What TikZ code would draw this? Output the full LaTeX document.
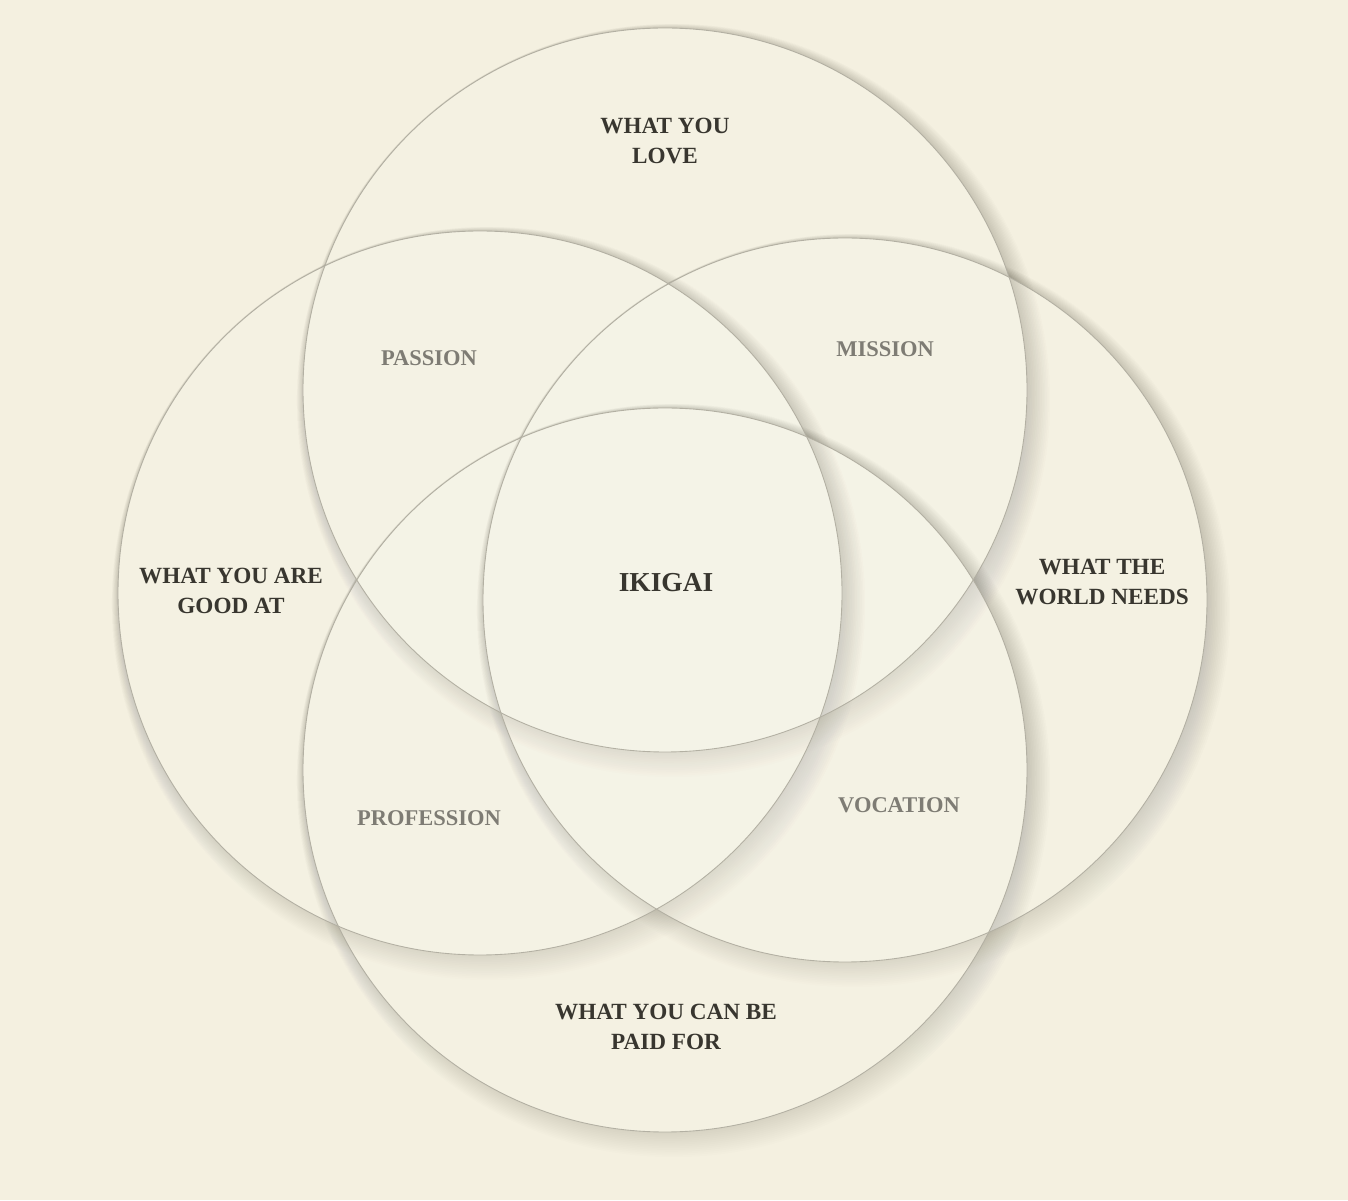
\documentclass[tikz,border=0pt]{standalone}
\usepackage{fontspec}
\setmainfont{Liberation Serif}
\usepackage{tikz}
\definecolor{paper}{HTML}{F4F0E0}
\definecolor{ink}{HTML}{38362F}
\definecolor{soft}{HTML}{7E7C74}
\definecolor{rim}{HTML}{B3B0A3}
\definecolor{shade}{HTML}{4A4636}

\begin{document}
\begin{tikzpicture}[x=0.02cm, y=0.02cm,
  every node/.style={align=center, inner sep=0pt},
  big/.style={font=\bfseries\fontsize{13.2}{17.2}\selectfont, text=ink},
  mix/.style={font=\bfseries\fontsize{12.8}{15}\selectfont, text=soft},
  core/.style={font=\bfseries\fontsize{15.6}{20}\selectfont, text=ink},
  rimline/.style={draw=rim, line width=0.5pt}]
\fill[paper] (0,0) rectangle (1348,1200);
\useasboundingbox (0,0) rectangle (1348,1200);
% circle centres
\coordinate (love) at (665,810);
\coordinate (good) at (480,607);
\coordinate (world) at (845,600);
\coordinate (paid) at (665,430);
% soft shadows, lower right of each circle
\foreach \c in {love,good,world,paid}{
  \foreach \k in {1,...,14}
    \fill[shade, opacity=0.008, even odd rule] (\c) ++(0.6*\k,-0.75*\k) circle[radius=362+1.05*\k] (\c) circle[radius=362];
  \fill[white, opacity=0.08] (\c) circle[radius=362];
}
\foreach \c in {love,good,world,paid}
  \draw[rimline] (\c) circle[radius=362];
% labels
\node[big] (lovetxt) at (665,1059) {WHAT YOU\\LOVE};
\node[big] (goodtxt) at (231,609) {WHAT YOU ARE\\GOOD AT};
\node[big] (worldtxt) at (1102,618) {WHAT THE\\WORLD NEEDS};
\node[big] (paidtxt) at (666,173) {WHAT YOU CAN BE\\PAID FOR};
\node[mix] (passion) at (429,842) {PASSION};
\node[mix] (mission) at (885,851) {MISSION};
\node[mix] (profession) at (429,382) {PROFESSION};
\node[mix] (vocation) at (899,395) {VOCATION};
\node[core] (ikigai) at (666,617) {IKIGAI};
\end{tikzpicture}
\end{document}
